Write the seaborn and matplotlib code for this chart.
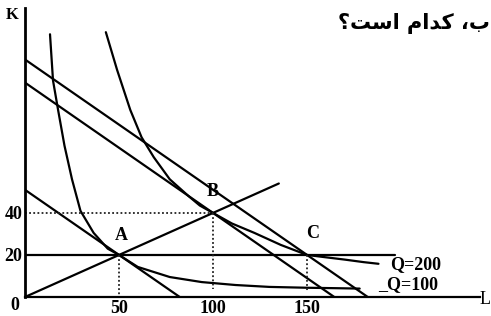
import matplotlib
matplotlib.use('Agg')
import matplotlib.pyplot as plt
import seaborn as sns

sns.set_theme(style='white')
plt.rcParams['font.family'] = ['Liberation Serif', 'DejaVu Serif']
plt.rcParams['text.color'] = 'black'

# isoquants (L, K)
q100_L = [13.3, 14.9, 17.6, 21, 25, 29.5, 36.5, 44, 50, 60, 77, 94, 112, 130, 150, 165, 178]
q100_K = [125, 103, 89, 72, 56, 41, 30.5, 23, 20, 14.3, 9.5, 7.1, 5.7, 4.8, 4.4, 4.2, 4.0]
q200_L = [43, 49, 56, 62, 68.5, 77, 87, 93, 100, 110, 122, 136, 150, 159, 170, 180, 188]
q200_K = [126, 108, 89, 76, 66.5, 56, 48, 43.5, 40, 35, 30.5, 24.8, 20, 19, 17.8, 16.6, 15.8]
q_labels = ['Q=200', '_Q=100']
q_label_L = [194, 188]
q_label_K = [15.5, 6.0]

# isocost lines: intercepts on the K and L axes
isocost_K0 = [51, 102, 113]
isocost_L0 = [82.3, 164.5, 182.3]

# expansion path and K=20 line
ray_L = [0, 135]
ray_K = [0, 54]
flat_L = [0, 197]
flat_K = [20, 20]

# equilibrium points
point_names = ['A', 'B', 'C']
point_L = [50, 100, 150]
point_K = [20, 40, 20]

x_ticks = [50, 100, 150]
y_ticks = [20, 40]

# Persian question fragment (presentation forms, visual order)
title_text = '\u061F\uFE96\uFEB3\uFE8D \uFEE1\uFE8D\uFEAA\uFB90 \u060C\uFE8F'

fig = plt.figure(figsize=(4.91, 3.16), dpi=100)
ax = fig.add_axes([25 / 491, 19 / 316, 455 / 491, 289 / 316])

lw = 1.6
sns.lineplot(x=q100_L, y=q100_K, sort=False, estimator=None, color='black', lw=lw, ax=ax)
sns.lineplot(x=q200_L, y=q200_K, sort=False, estimator=None, color='black', lw=lw, ax=ax)
for k0, l0 in zip(isocost_K0, isocost_L0):
    ax.plot([0, l0], [k0, 0], color='black', lw=lw)
ax.plot(ray_L, ray_K, color='black', lw=lw)
ax.plot(flat_L, flat_K, color='black', lw=lw)

# dotted guides
dots = dict(color='#222222', lw=1.3, ls=(0, (1, 1.3)))
ax.plot([0, point_L[1]], [point_K[1], point_K[1]], **dots)
ax.plot([point_L[0], point_L[0]], [point_K[0], 1], **dots)
ax.plot([point_L[1], point_L[1]], [point_K[1], 4], **dots)
ax.plot([point_L[2], point_L[2]], [point_K[2], 3], **dots)

offsets = [(2, 8), (0, 9), (4, 9)]
for name, l, k, off in zip(point_names, point_L, point_K, offsets):
    ax.annotate(name, (l, k), xytext=off, textcoords='offset points',
                ha='center', va='bottom', fontsize=13, fontweight='bold', color='black')

for t, l, k in zip(q_labels, q_label_L, q_label_K):
    ax.text(l, k, t, ha='left', va='center', fontsize=13, fontweight='bold', color='black')

ax.set_xlim(0, 242)
ax.set_ylim(0, 137.5)
ax.set_xticks(x_ticks)
ax.set_yticks(y_ticks)
ax.set_xticklabels([str(v) for v in x_ticks], fontsize=13, fontweight='bold', color='black')
ax.set_yticklabels([str(v) for v in y_ticks], fontsize=13, fontweight='bold', color='black')
ax.tick_params(length=0, pad=2, colors='black')
for s in ['top', 'right']:
    ax.spines[s].set_visible(False)
ax.spines['left'].set_linewidth(2.0)
ax.spines['bottom'].set_linewidth(1.6)
ax.spines['left'].set_color('black')
ax.spines['bottom'].set_color('black')

fig.text(15 / 491, 1 - 306 / 316, '0', ha='center', va='center', fontsize=13, fontweight='bold')
fig.text(12 / 491, 1 - 15 / 316, 'K', ha='center', va='center', fontsize=12, fontweight='bold')
fig.text(480 / 491, 1 - 299 / 316, 'L', ha='left', va='center', fontsize=13)
fig.text(338 / 491, 1 - 24 / 316, title_text, ha='left', va='center', fontsize=15,
         fontweight='bold', family=['DejaVu Sans'])

fig.savefig('out.png', dpi=100)
